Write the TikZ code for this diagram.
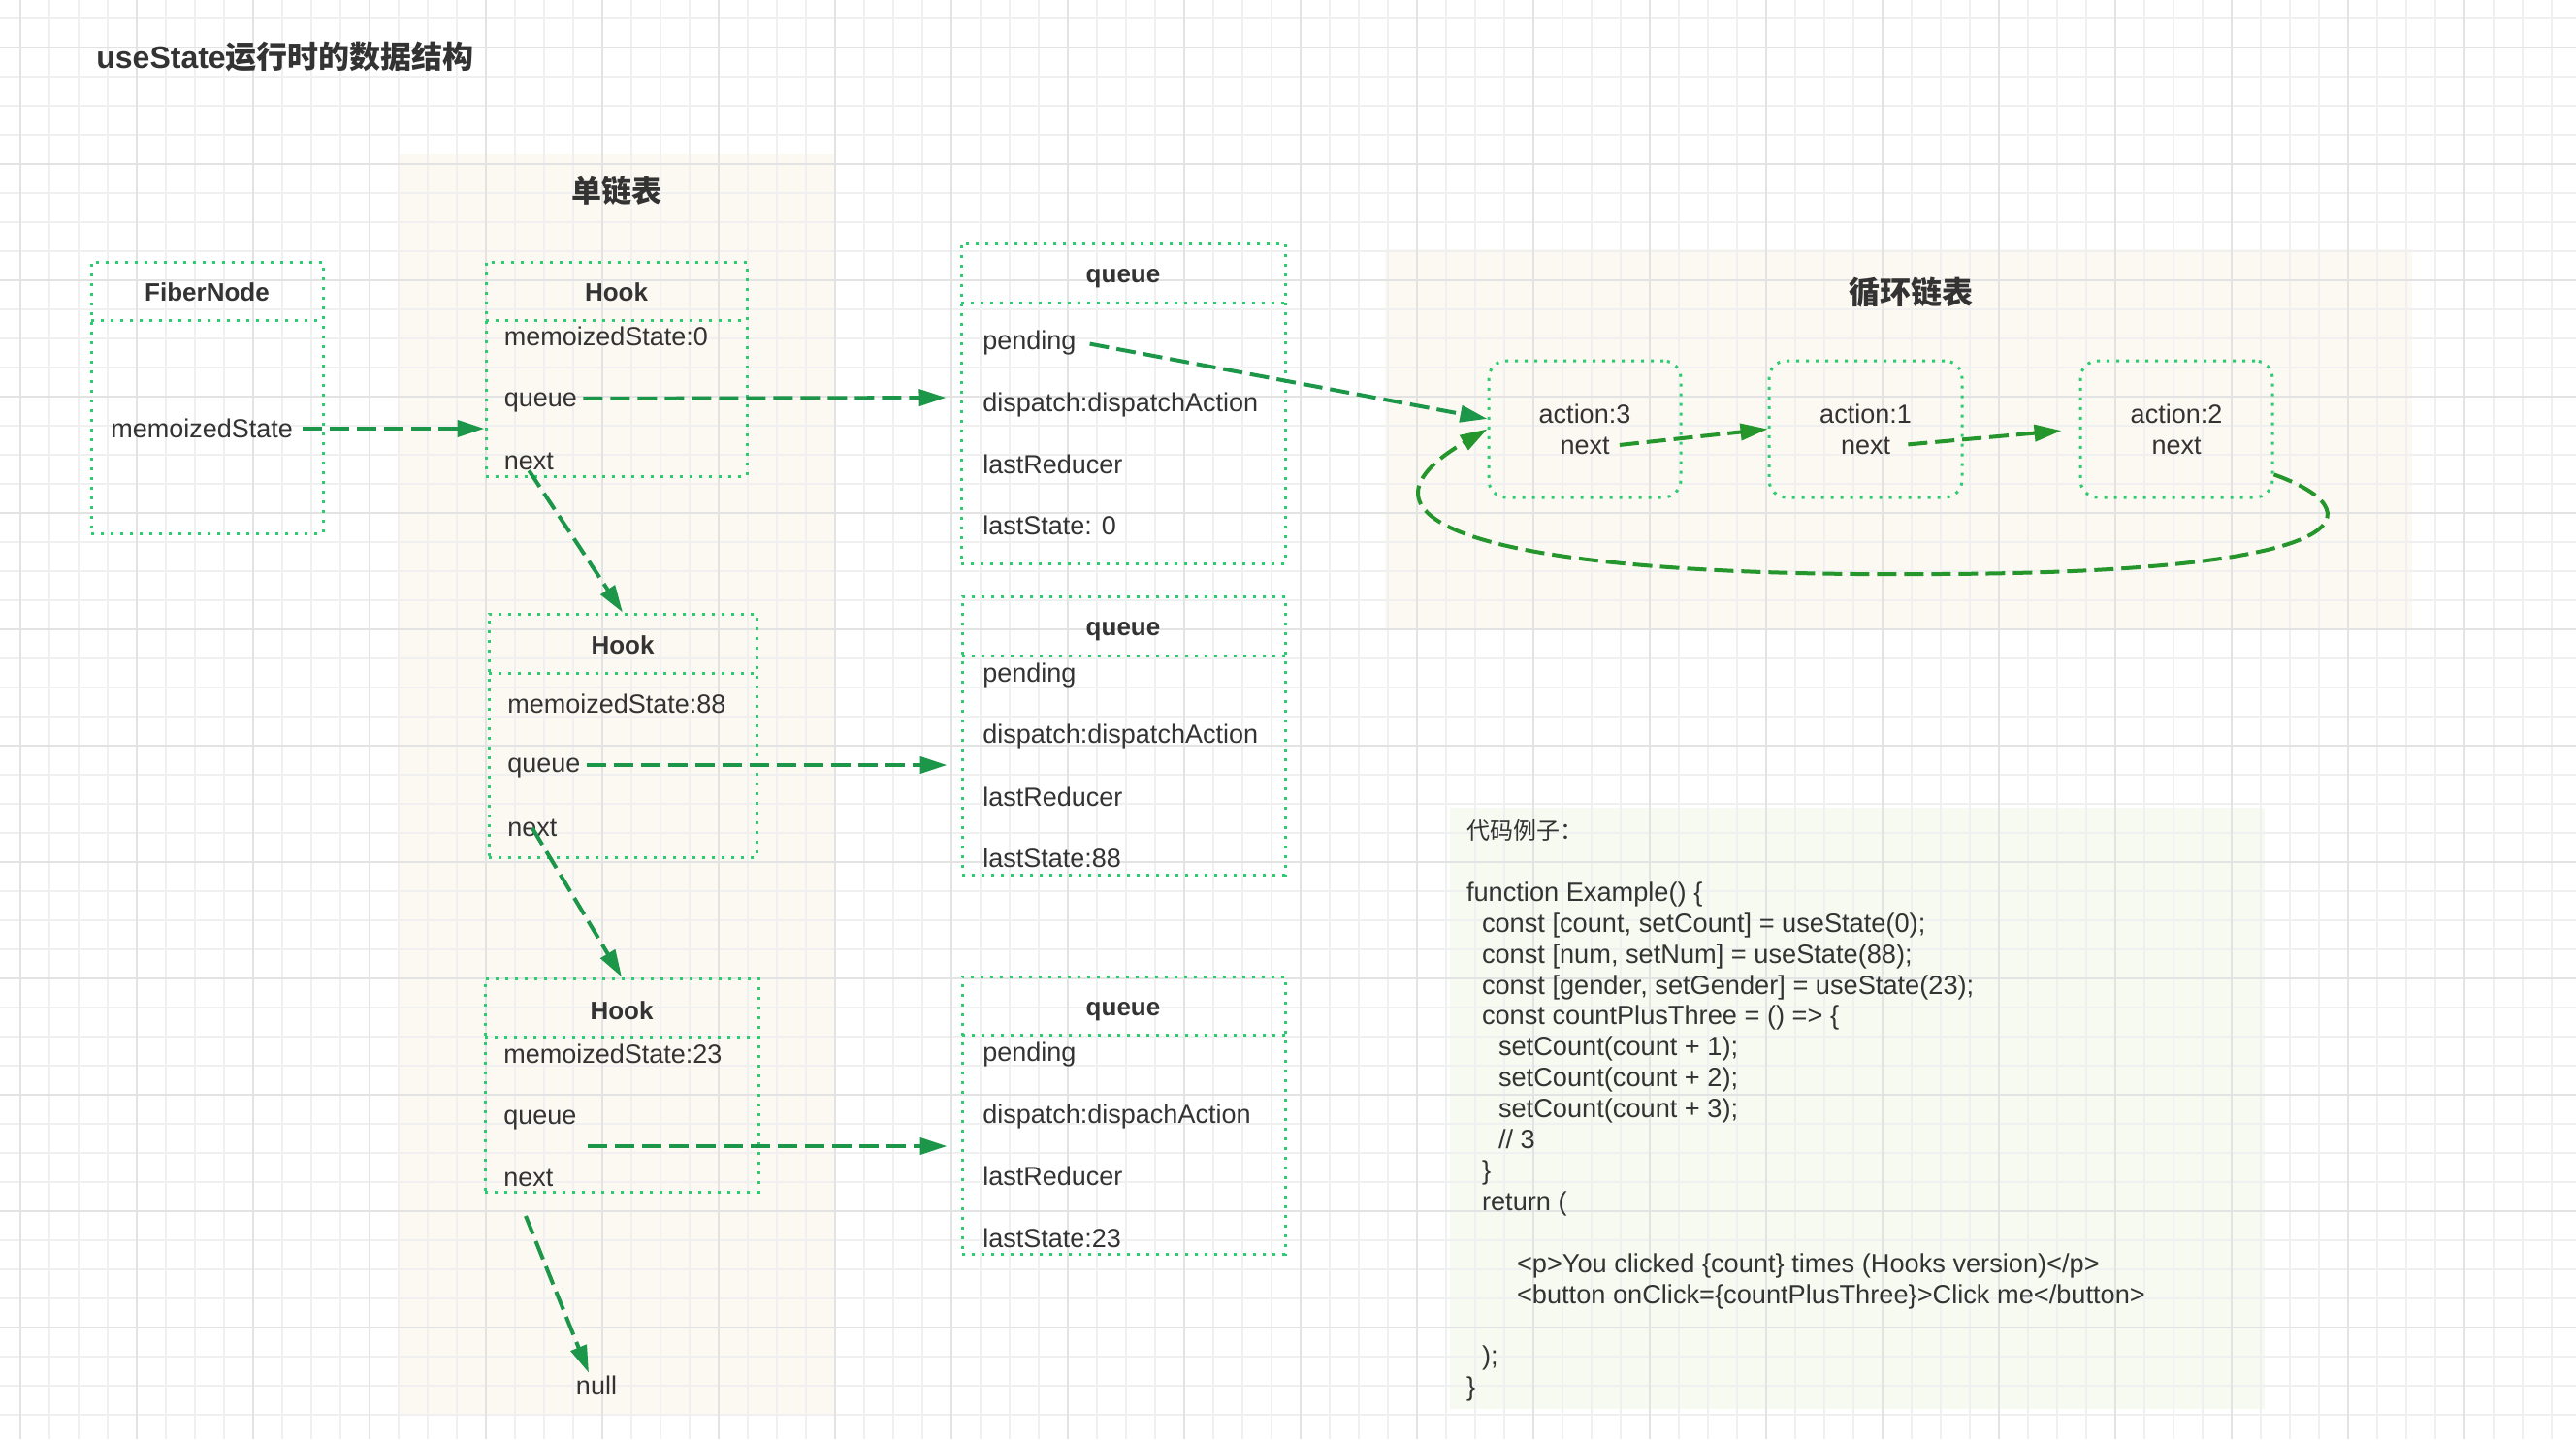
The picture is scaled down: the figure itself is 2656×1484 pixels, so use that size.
\documentclass[tikz,border=0pt]{standalone}
\usepackage{fontspec}
\setmainfont{Liberation Sans}
\newfontfamily\cjk{Noto Sans CJK SC}
\usetikzlibrary{arrows.meta,fit,calc}

\definecolor{txt}{HTML}{333333}
\definecolor{boxgreen}{RGB}{46,204,113}
\definecolor{arrowgreen}{RGB}{28,150,72}
\definecolor{loopgreen}{RGB}{36,150,44}
\definecolor{panelbg}{HTML}{FCF8F2}
\definecolor{codebg}{HTML}{F6FAF0}
\definecolor{gridthin}{HTML}{F0F0F0}
\definecolor{gridthick}{HTML}{E3E3E3}

\tikzset{
  dotbox/.style={draw=boxgreen, line width=1.5pt, dash pattern=on 1.5pt off 3.5pt, inner sep=0pt},
  dotline/.style={draw=boxgreen, line width=1.5pt, dash pattern=on 1.5pt off 3.5pt},
  field/.style={font=\fontsize{13.5}{16}\selectfont, text=txt, inner sep=0pt},
  head/.style={font=\fontsize{13}{16}\selectfont\bfseries, text=txt, inner sep=0pt},
  link/.style={->, draw=arrowgreen, line width=2pt, dash pattern=on 10pt off 4pt},
  ringlink/.style={->, draw=loopgreen, line width=2pt, dash pattern=on 10pt off 4pt},
}

\begin{document}
\begin{tikzpicture}[x=0.5pt, y=-0.5pt, >={Triangle[length=14pt,width=8.5pt]}]
    \useasboundingbox (0,0) rectangle (2656,1484);
    \fill [white] (0,0) rectangle (2656,1484);
    \fill [panelbg] (410,159) rectangle (861,1460);
    \fill [panelbg] (1428,257) rectangle (2487,649);
    \fill [codebg] (1495,833) rectangle (2335,1453);
    \foreach \x in {21,51,...,2651} \draw [gridthin, line width=1pt] (\x,0) -- (\x,1484);
    \foreach \y in {19,49,...,1484} \draw [gridthin, line width=1pt] (0,\y) -- (2656,\y);
    \foreach \x in {21,141,...,2651} \draw [gridthick, line width=1pt] (\x,0) -- (\x,1484);
    \foreach \y in {49,169,...,1484} \draw [gridthick, line width=1pt] (0,\y) -- (2656,\y);

    \node at (99,58) [anchor=west, font=\fontsize{16}{20}\selectfont\bfseries, text=txt, inner sep=0pt] (title) {useState{\cjk 运行时的数据结构}};
    \node at (636,197) [font=\cjk\fontsize{15.5}{18}\selectfont\bfseries, text=txt] (listtitle) {单链表};
    \node at (1970,302) [font=\cjk\fontsize{16}{18}\selectfont\bfseries, text=txt] (ringtitle) {循环链表};

    \node [dotbox, fit={(94,270) (333,550)}] (fiber) {};
    \draw [dotline] (94,330) -- (333,330);
    \node at (213.5,301) [head] (fiberhead) {FiberNode};
    \node at (114,442) [field, anchor=west] (fiberms) {memoizedState};

    \node [dotbox, fit={(501,270) (770,491)}] (hook1) {};
    \draw [dotline] (501,330) -- (770,330);
    \node at (635.5,301) [head] (h1head) {Hook};
    \node at (519.5,347) [field, anchor=west] (h1ms) {memoizedState:0};
    \node at (519.5,415) [field, anchor=west] (h1queue) {queue};
    \node at (519.5,476) [field, anchor=west] (h1next) {next};

    \node [dotbox, fit={(504,633) (780,884)}] (hook2) {};
    \draw [dotline] (504,694) -- (780,694);
    \node at (642,665) [head] (h2head) {Hook};
    \node at (523,726) [field, anchor=west] (h2ms) {memoizedState:88};
    \node at (523,792) [field, anchor=west] (h2queue) {queue};
    \node at (523,854) [field, anchor=west] (h2next) {next};

    \node [dotbox, fit={(500,1009) (782,1229)}] (hook3) {};
    \draw [dotline] (500,1069) -- (782,1069);
    \node at (641,1042) [head] (h3head) {Hook};
    \node at (519,1087) [field, anchor=west] (h3ms) {memoizedState:23};
    \node at (519,1155) [field, anchor=west] (h3queue) {queue};
    \node at (519,1215) [field, anchor=west] (h3next) {next};
    \coordinate (h3q) at (606,1182);
    \coordinate (h3out) at (542,1254);
    \node at (615,1429) [field] (null) {null};

    \node [dotbox, fit={(991,251) (1325,581)}] (queue1) {};
    \draw [dotline] (991,312) -- (1325,312);
    \node at (1158,287) [head] (q1head) {queue};
    \node at (1013,354) [field, anchor=west] (q1pending) {pending};
    \node at (1013,418) [field, anchor=west] (q1dispatch) {dispatch:dispatchAction};
    \node at (1013,479) [field, anchor=west] (q1reducer) {lastReducer};
    \node at (1013,542) [field, anchor=west] (q1state) {lastState: 0};

    \node [dotbox, fit={(992,615) (1325,902)}] (queue2) {};
    \draw [dotline] (992,676) -- (1325,676);
    \node at (1158,651) [head] (q2head) {queue};
    \node at (1013,697) [field, anchor=west] (q2pending) {pending};
    \node at (1013,760) [field, anchor=west] (q2dispatch) {dispatch:dispatchAction};
    \node at (1013,822) [field, anchor=west] (q2reducer) {lastReducer};
    \node at (1013,885) [field, anchor=west] (q2state) {lastState:88};

    \node [dotbox, fit={(992,1007) (1325,1293)}] (queue3) {};
    \draw [dotline] (992,1067) -- (1325,1067);
    \node at (1158,1043) [head] (q3head) {queue};
    \node at (1013,1088) [field, anchor=west] (q3pending) {pending};
    \node at (1013,1152) [field, anchor=west] (q3dispatch) {dispatch:dispachAction};
    \node at (1013,1213) [field, anchor=west] (q3reducer) {lastReducer};
    \node at (1013,1277) [field, anchor=west] (q3state) {lastState:23};

    \node [dotbox, rounded corners=9pt, fit={(1535,372) (1733,513)}] (act3) {};
    \node at (1634,427) [field] (a3text) {action:3};
    \node at (1634,460) [field] (a3next) {next};
    \node [dotbox, rounded corners=9pt, fit={(1824,372) (2023,513)}] (act1) {};
    \node at (1923.5,427) [field] (a1text) {action:1};
    \node at (1923.5,460) [field] (a1next) {next};
    \node [dotbox, rounded corners=9pt, fit={(2145,372) (2343,513)}] (act2) {};
    \node at (2244,427) [field] (a2text) {action:2};
    \node at (2244,460) [field] (a2next) {next};

    \node at (1511.6,845) [anchor=north west, align=left, font=\fontsize{13.6}{15.95}\selectfont, text=txt, inner sep=0pt] (code) {{\cjk\fontsize{12}{15.95}\selectfont 代码例子：}\\
      \mbox{}\\
      function Example() \{\\
      \hspace{8pt}const [count, setCount] = useState(0);\\
      \hspace{8pt}const [num, setNum] = useState(88);\\
      \hspace{8pt}const [gender, setGender] = useState(23);\\
      \hspace{8pt}const countPlusThree = () => \{\\
      \hspace{16.5pt}setCount(count + 1);\\
      \hspace{16.5pt}setCount(count + 2);\\
      \hspace{16.5pt}setCount(count + 3);\\
      \hspace{16.5pt}// 3\\
      \hspace{8pt}\}\\
      \hspace{8pt}return (\\
      \mbox{}\\
      \hspace{26pt}<p>You clicked \{count\} times (Hooks version)</p>\\
      \hspace{26pt}<button onClick=\{countPlusThree\}>Click me</button>\\
      \mbox{}\\
      \hspace{8pt});\\
      \}};

    \draw [link, shorten <=5pt] (fiberms.east) -- (fiberms.east -| hook1.west);
    \draw [link, shorten <=3pt, shorten >=7pt] (h1queue.east) ++(0,-4) -- (queue1.west |- 0,410);
    \draw [link, shorten <=3pt, shorten >=7pt] (h2queue.east) ++(0,-3) -- (queue2.west |- 0,789);
    \draw [link, shorten >=7pt] (h3q) -- (h3q -| queue3.west);
    \draw [link] (h1next.south) -- (hook2.north);
    \draw [link] (h2next.center) -- (hook3.north);
    \draw [link] (h3out) -- ($(null.north)+(-8,-3)$);
    \draw [link, shorten <=7pt] (q1pending.east) ++(0,-2) -- (act3.174);
    \draw [ringlink, shorten <=5pt] (a3next.east) -- (act1.west);
    \draw [ringlink, shorten <=9pt, shorten >=9pt] (a1next.east) -- (act2.west);
    \draw [ringlink] (act2.-25) .. controls (2445,525) and (2450,590) .. (2000,592) .. controls (1520,596) and (1375,535) .. (act3.west);
\end{tikzpicture}
\end{document}
